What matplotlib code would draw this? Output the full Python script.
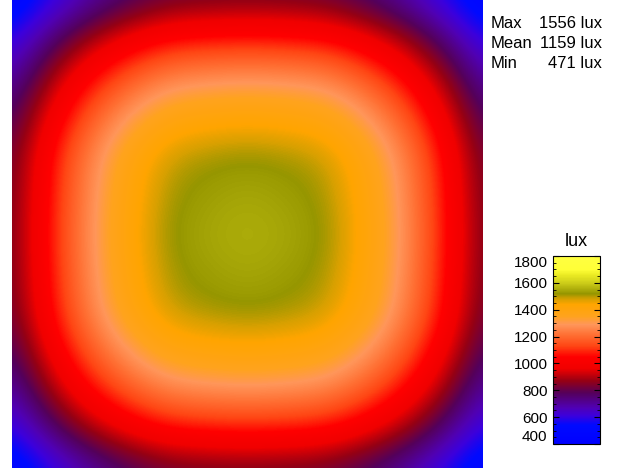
import matplotlib
matplotlib.use("Agg")
import matplotlib.pyplot as plt
from matplotlib.colors import LinearSegmentedColormap
from matplotlib.ticker import MultipleLocator

plt.rcParams["font.family"] = ["Liberation Sans", "DejaVu Sans"]

# illuminance on a 13 x 13 grid of nodes (lux),
# first/last rows and columns sit on the edges of the room
lux_grid = [
    [465, 576, 683, 760, 812, 824, 830, 824, 812, 760, 683, 576, 465],
    [576, 750, 888, 989, 1056, 1072, 1080, 1072, 1056, 989, 888, 750, 576],
    [683, 888, 1053, 1172, 1252, 1271, 1280, 1271, 1252, 1172, 1053, 888, 683],
    [760, 989, 1172, 1305, 1394, 1415, 1425, 1415, 1394, 1305, 1172, 989, 760],
    [812, 1056, 1252, 1394, 1489, 1511, 1522, 1511, 1489, 1394, 1252, 1056, 812],
    [824, 1072, 1271, 1415, 1511, 1534, 1545, 1534, 1511, 1415, 1271, 1072, 824],
    [830, 1080, 1280, 1425, 1522, 1545, 1556, 1545, 1522, 1425, 1280, 1080, 830],
    [824, 1072, 1271, 1415, 1511, 1534, 1545, 1534, 1511, 1415, 1271, 1072, 824],
    [812, 1056, 1252, 1394, 1489, 1511, 1522, 1511, 1489, 1394, 1252, 1056, 812],
    [760, 989, 1172, 1305, 1394, 1415, 1425, 1415, 1394, 1305, 1172, 989, 760],
    [683, 888, 1053, 1172, 1252, 1271, 1280, 1271, 1252, 1172, 1053, 888, 683],
    [576, 750, 888, 989, 1056, 1072, 1080, 1072, 1056, 989, 888, 750, 576],
    [465, 576, 683, 760, 812, 824, 830, 824, 812, 760, 683, 576, 465],
]

stat_names = ["Max", "Mean", "Min"]
stat_values = [1556, 1159, 471]
unit = "lux"

cbar_ticks = [400, 600, 800, 1000, 1200, 1400, 1600, 1800]
vmin, vmax = 400, 1800

# colour scale stops (lux, rgb)
scale_lux = [400, 540, 610, 670, 780, 870, 960, 1050, 1130, 1210, 1290,
             1350, 1440, 1480, 1520, 1600, 1660, 1700, 1800]
scale_rgb = [(0, 0, 255), (0, 10, 255), (60, 0, 220), (80, 0, 180),
             (85, 0, 90), (150, 0, 20), (240, 0, 0), (255, 0, 0),
             (255, 70, 20), (255, 110, 50), (255, 150, 90), (255, 163, 30),
             (255, 165, 0), (215, 160, 0), (150, 150, 0), (205, 205, 25),
             (235, 235, 35), (255, 255, 55), (255, 255, 65)]

cmap = LinearSegmentedColormap.from_list(
    "lux",
    [((v - vmin) / (vmax - vmin), tuple(c / 255 for c in rgb))
     for v, rgb in zip(scale_lux, scale_rgb)],
    N=512,
)

fig = plt.figure(figsize=(6.17, 4.71), dpi=100)

ax = fig.add_axes([12 / 617, 3 / 471, 471 / 617, 468 / 471])
n = len(lux_grid) - 1
im = ax.imshow(lux_grid, cmap=cmap, vmin=vmin, vmax=vmax,
               interpolation="bicubic", interpolation_stage="data",
               aspect="auto")
ax.set_xlim(0, n)
ax.set_ylim(n, 0)
ax.axis("off")

# stats block, top right
for i, (name, val) in enumerate(zip(stat_names, stat_values)):
    y = 1 - (28 + 20 * i) / 471
    fig.text(491 / 617, y, name, fontsize=12, va="baseline", ha="left")
    fig.text(602 / 617, y, f"{val} {unit}", fontsize=12,
             va="baseline", ha="right")

# colour bar
cax = fig.add_axes([553 / 617, 27 / 471, 47 / 617, 188 / 471])
cb = fig.colorbar(im, cax=cax, ticks=cbar_ticks)
cb.outline.set_linewidth(0.8)
cax.yaxis.set_minor_locator(MultipleLocator(50))
cax.yaxis.set_ticks_position("both")
cax.tick_params(which="both", direction="in", left=True, right=True,
                labelleft=True, labelright=False, labelsize=11, pad=4)
cax.tick_params(which="major", length=4, width=0.8)
cax.tick_params(which="minor", length=2, width=0.6)
ticks = cax.yaxis.get_major_ticks()
ticks[0].label1.set_va("bottom")
ticks[-1].label1.set_va("top")
cax.set_title(unit, fontsize=13, pad=7)

fig.savefig("out.png", dpi=100)
